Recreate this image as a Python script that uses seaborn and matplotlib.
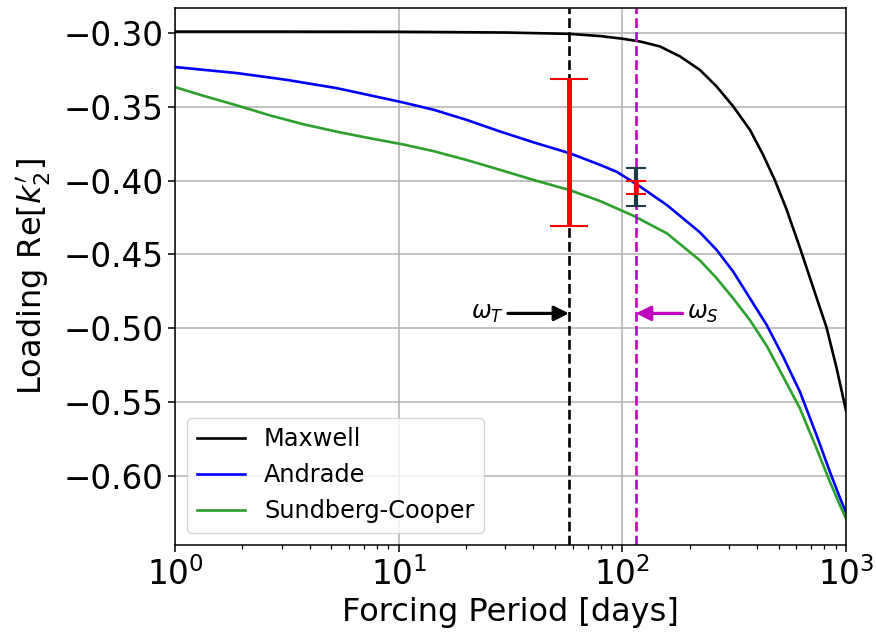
import numpy as np
import pandas as pd
import matplotlib
matplotlib.use("Agg")
import matplotlib.pyplot as plt
import seaborn as sns

# ---- data ----
maxwell_period = [1, 3, 10, 30, 57.7, 79.4, 100, 120, 147, 181, 222, 264, 313, 372, 426,
                  480, 542, 622, 713, 818, 907, 1000]
maxwell_k2 = [-0.2990, -0.2990, -0.2991, -0.2996, -0.3005, -0.3020, -0.3038, -0.3057, -0.3090,
              -0.3158, -0.3249, -0.3362, -0.3497, -0.3656, -0.3826, -0.3995, -0.4195, -0.4455,
              -0.4725, -0.4995, -0.5270, -0.5560]

andrade_period = [1, 1.89, 3.16, 5.28, 10.1, 14.3, 20.1, 28.4, 40.0, 58.3, 79.4, 94.3, 116,
                  158, 222, 264, 313, 372, 442, 524, 622, 738, 847, 939, 1000]
andrade_k2 = [-0.3230, -0.3271, -0.3317, -0.3373, -0.3465, -0.3519, -0.3588, -0.3667, -0.3740,
              -0.3815, -0.3893, -0.3940, -0.4025, -0.4165, -0.4350, -0.4470, -0.4617, -0.4798,
              -0.4979, -0.5195, -0.5431, -0.5725, -0.5974, -0.6150, -0.6250]

sc_period = [1, 1.34, 1.89, 2.66, 3.75, 5.28, 7.45, 10.5, 14.3, 20.1, 28.4, 40.0, 58.3, 79.4,
             112, 158, 222, 264, 313, 372, 442, 524, 622, 738, 847, 939, 1000]
sc_k2 = [-0.3366, -0.3425, -0.3490, -0.3558, -0.3618, -0.3668, -0.3713, -0.3755, -0.3800,
         -0.3860, -0.3927, -0.3995, -0.4065, -0.4138, -0.4238, -0.4357, -0.4540, -0.4662,
         -0.4798, -0.4946, -0.5120, -0.5330, -0.5544, -0.5815, -0.6041, -0.6200, -0.6290]

omega_T_period = 57.7
omega_S_period = 115.0

err_big_center, err_big_half = -0.381, 0.050          # red, at omega_T
err_dark_center, err_dark_half = -0.4042, 0.0127      # dark, at omega_S
err_small_center, err_small_half = -0.4046, 0.0046    # red, at omega_S

arrow_level = -0.49
omega_T_tail = 30.8
omega_S_tail = 186.0

model_names = ["Maxwell", "Andrade", "Sundberg-Cooper"]
model_colors = ["black", "blue", "#2ca02c"]

df = pd.concat([
    pd.DataFrame({"period": maxwell_period, "k2": maxwell_k2, "model": "Maxwell"}),
    pd.DataFrame({"period": andrade_period, "k2": andrade_k2, "model": "Andrade"}),
    pd.DataFrame({"period": sc_period, "k2": sc_k2, "model": "Sundberg-Cooper"}),
])

fig = plt.figure(figsize=(8.76, 6.37), dpi=100)
ax = fig.add_axes([0.1998, 0.1444, 0.7660, 0.8430])

sns.lineplot(data=df, x="period", y="k2", hue="model", hue_order=model_names,
             palette=dict(zip(model_names, model_colors)), lw=1.9, ax=ax, sort=False,
             estimator=None)
ax.set_xscale("log")

ax.axvline(omega_T_period, color="black", ls="--", lw=1.9)
ax.axvline(omega_S_period, color="m", ls="--", lw=1.9)

ax.errorbar([omega_T_period], [err_big_center], yerr=[err_big_half], color="red",
            lw=3.6, capsize=13.5, capthick=1.5, fmt="none", zorder=5)
ax.errorbar([omega_S_period], [err_dark_center], yerr=[err_dark_half], color="#1d3a47",
            lw=3.0, capsize=7, capthick=1.5, fmt="none", zorder=5)
ax.errorbar([omega_S_period], [err_small_center], yerr=[err_small_half], color="red",
            lw=3.4, capsize=7, capthick=1.5, fmt="none", zorder=6)

ax.annotate("", xy=(omega_T_period, arrow_level), xytext=(omega_T_tail, arrow_level),
            arrowprops=dict(arrowstyle="-|>", color="black", lw=2.3, mutation_scale=22,
                            shrinkA=0, shrinkB=0))
ax.annotate("", xy=(omega_S_period, arrow_level), xytext=(omega_S_tail, arrow_level),
            arrowprops=dict(arrowstyle="-|>", color="m", lw=2.3, mutation_scale=22,
                            shrinkA=0, shrinkB=0))
ax.text(29.5, arrow_level, r"$\omega_T$", ha="right", va="center", fontsize=17)
ax.text(195, arrow_level, r"$\omega_S$", ha="left", va="center", fontsize=17)

ax.set_xlim(1, 1000)
ax.set_ylim(-0.647, -0.283)
ax.set_yticks([-0.60, -0.55, -0.50, -0.45, -0.40, -0.35, -0.30])
ax.grid(True, which="major", color="#b0b0b0", lw=1.1)
ax.tick_params(axis="both", which="major", labelsize=23.5, length=5, width=1.1)
ax.tick_params(axis="x", which="minor", length=3, width=0.9)
ax.set_xlabel("Forcing Period [days]", fontsize=23)
ax.set_ylabel(r"Loading Re$[k_2^{\prime}]$", fontsize=23, labelpad=7.5)
for s in ax.spines.values():
    s.set_linewidth(1.1)

ax.legend(loc="lower left", fontsize=17.3, title=None, framealpha=0.8, handlelength=2.0)

fig.savefig("out.png", dpi=100)
